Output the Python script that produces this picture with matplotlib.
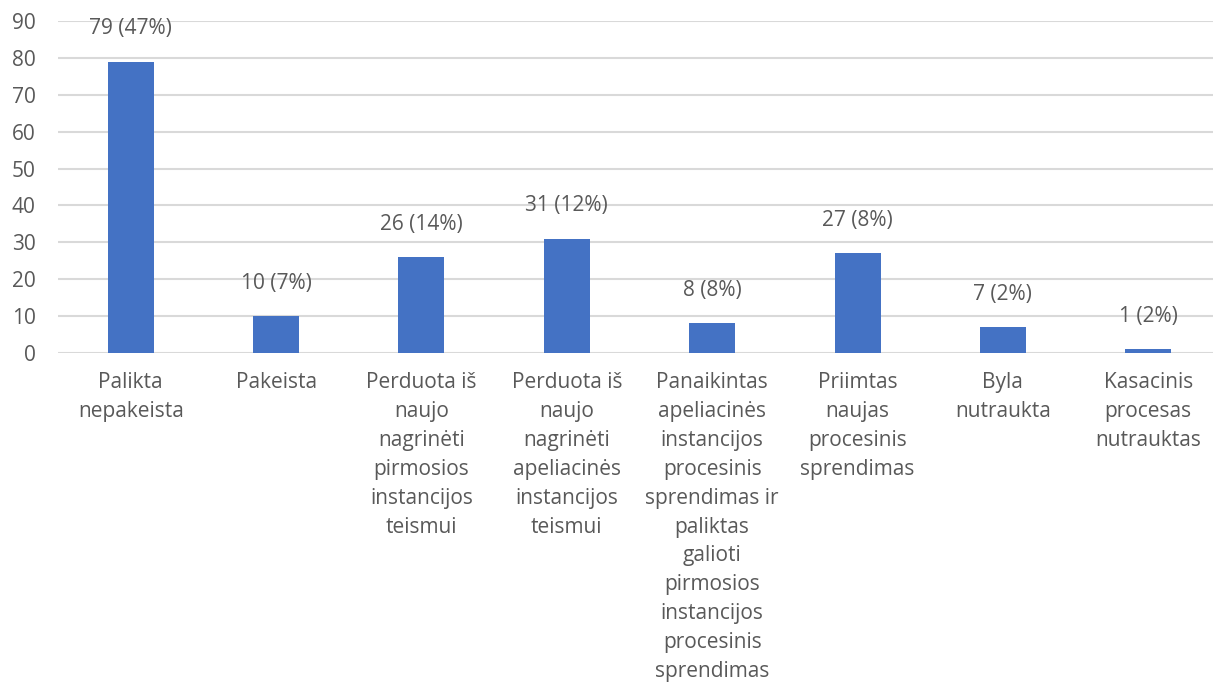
import numpy as np
import matplotlib
matplotlib.use("Agg")
import matplotlib.pyplot as plt

# duomenys
kategorijos = [
    "Palikta\nnepakeista",
    "Pakeista",
    "Perduota iš\nnaujo\nnagrinėti\npirmosios\ninstancijos\nteismui",
    "Perduota iš\nnaujo\nnagrinėti\napeliacinės\ninstancijos\nteismui",
    "Panaikintas\napeliacinės\ninstancijos\nprocesinis\nsprendimas ir\npaliktas\ngalioti\npirmosios\ninstancijos\nprocesinis\nsprendimas",
    "Priimtas\nnaujas\nprocesinis\nsprendimas",
    "Byla\nnutraukta",
    "Kasacinis\nprocesas\nnutrauktas",
]
reiksmes = [79, 10, 26, 31, 8, 27, 7, 1]
procentai = [47, 7, 14, 12, 8, 8, 2, 2]

plt.rcParams['font.family'] = ['Open Sans', 'DejaVu Sans']
pilka = '#595959'

fig = plt.figure(figsize=(12.13, 6.88), dpi=100)
W, H = 1213, 688
ax = fig.add_axes([58 / W, 335 / H, 1163 / W, 332 / H])

x = np.arange(len(reiksmes))
ax.bar(x, reiksmes, width=0.316, color='#4472C4', zorder=3)

for xi, v, p in zip(x, reiksmes, procentai):
    ax.annotate(f"{v} ({p}%)", (xi, v), xytext=(0, 16), textcoords='offset points',
                ha='center', va='bottom', fontsize=15, color=pilka)

ax.set_xlim(-0.5, len(reiksmes) - 0.5)
ax.set_ylim(0, 90)
ax.set_yticks(range(0, 91, 10))
ax.grid(axis='y', color='#D9D9D9', linewidth=1.5, zorder=0)
ax.set_xticks(x)
ax.set_xticklabels(kategorijos, fontsize=15, color=pilka, linespacing=1.49)
ax.tick_params(axis='x', length=0, pad=14)
ax.tick_params(axis='y', length=0, pad=16, labelsize=15, labelcolor=pilka)
for s in ax.spines.values():
    s.set_visible(False)

fig.savefig("out.png", dpi=100)
